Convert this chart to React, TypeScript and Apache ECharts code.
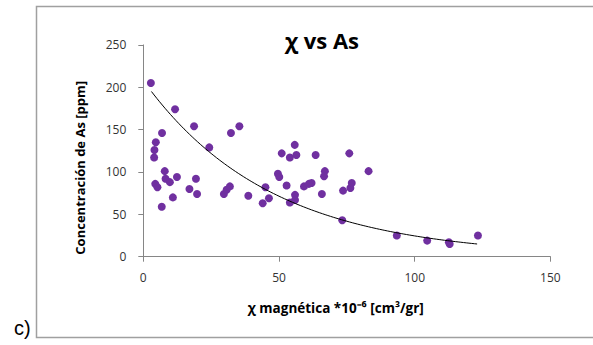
import React, { useEffect, useRef } from "react";
import * as echarts from "echarts";

// Magnetic susceptibility (x) and As concentration (y)
const CHI = [
  2.8, 4.6, 4.1, 4.0, 4.4, 5.2, 6.8, 6.9, 7.9, 8.2, 9.8, 11.7, 12.4, 10.9, 17, 18.7, 19.4, 19.8,
  24.3, 29.7, 30.7, 31.9, 32.3, 35.4, 38.7, 44, 45, 46.3, 49.6, 50.1, 51, 55.8, 54, 56.4, 63.5,
  75.9, 83, 66.9, 66.6, 52.8, 59.2, 62, 61, 55.9, 55.9, 54, 65.8, 73.6, 76.3, 76.8, 73.3, 93.4,
  104.6, 112.6, 112.9, 123.3,
];
const AS = [
  205, 135, 126, 117, 86, 82, 59, 146, 101, 92, 88, 174, 94, 70, 80, 154, 92, 74,
  129, 74, 79, 83, 146, 154, 72, 63, 82, 69, 98, 94, 122, 132, 117, 120, 120,
  122, 101, 101, 95, 84, 83, 87, 86, 73, 67, 64, 74, 78, 81, 87, 43, 25,
  19, 17, 15, 25,
];

// Exponential trendline y = A * exp(B * x)
const TREND_A = 207.9;
const TREND_B = -0.02137;
const TREND_X_START = 3;
const TREND_X_END = 123;

const X_TICKS = [0, 50, 100, 150];
const Y_TICKS = [0, 50, 100, 150, 200, 250];

const TITLE = "χ vs As";
const X_NAME = "χ magnética *10⁻⁶ [cm³/gr]";
const Y_NAME = "Concentración de As [ppm]";
const PANEL_LABEL = "c)";

export default function App() {
  const ref = useRef<HTMLDivElement>(null);
  useEffect(() => {
    if (!ref.current) return;
    const chart = echarts.init(ref.current, undefined, { renderer: "svg" });
    const points = CHI.map((x, i) => [x, AS[i]]);
    const trend: number[][] = [];
    for (let x = TREND_X_START; x <= TREND_X_END + 1e-9; x += 1) {
      trend.push([x, TREND_A * Math.exp(TREND_B * x)]);
    }
    const axisLine = { show: true, lineStyle: { color: "#868686", width: 1 } };
    const labelStyle = { fontFamily: "Open Sans", fontSize: 12, color: "#333333" };
    chart.setOption({
      animation: false,
      backgroundColor: "#ffffff",
      title: {
        text: TITLE,
        left: 317,
        top: 24,
        textAlign: "center",
        textStyle: { fontFamily: "Open Sans", fontWeight: "bold", fontSize: 22, color: "#000" },
      },
      grid: { left: 143.3, top: 44.9, right: 42.6, bottom: 88.3 },
      xAxis: {
        type: "value",
        min: X_TICKS[0],
        max: X_TICKS[X_TICKS.length - 1],
        interval: X_TICKS[1] - X_TICKS[0],
        name: X_NAME,
        nameLocation: "middle",
        nameGap: 44,
        nameTextStyle: {
          fontFamily: "Open Sans",
          fontWeight: "bold",
          fontSize: 13.5,
          color: "#000",
          padding: [0, 22, 0, 0],
        },
        axisLine,
        axisTick: { show: true, inside: false, length: 5, lineStyle: { color: "#868686" } },
        axisLabel: { ...labelStyle, margin: 15 },
        splitLine: { show: false },
      },
      yAxis: {
        type: "value",
        min: Y_TICKS[0],
        max: Y_TICKS[Y_TICKS.length - 1],
        interval: Y_TICKS[1] - Y_TICKS[0],
        name: Y_NAME,
        nameLocation: "middle",
        nameGap: 57,
        nameTextStyle: {
          fontFamily: "Open Sans",
          fontWeight: "bold",
          fontSize: 13,
          color: "#000",
          padding: [0, 34, 0, 0],
        },
        axisLine,
        axisTick: { show: true, inside: false, length: 5, lineStyle: { color: "#868686" } },
        axisLabel: { ...labelStyle, margin: 17 },
        splitLine: { show: false },
      },
      graphic: [
        {
          type: "rect",
          shape: { x: 36.5, y: 6.5, width: 600, height: 331 },
          style: { fill: "none", stroke: "#a0a0a0", lineWidth: 1.5 },
          silent: true,
        },
        {
          type: "text",
          left: 14,
          top: 318,
          style: { text: PANEL_LABEL, font: "20px 'Liberation Sans'", fill: "#000" },
        },
      ],
      series: [
        {
          type: "scatter",
          data: points,
          symbol: "circle",
          symbolSize: 8,
          itemStyle: { color: "#7030A0", opacity: 1 },
          z: 2,
        },
        {
          type: "line",
          data: trend,
          showSymbol: false,
          symbol: "none",
          lineStyle: { color: "#000", width: 1 },
          z: 3,
          silent: true,
        },
      ],
    });
    return () => chart.dispose();
  }, []);
  return (
    <div
      ref={ref}
      style={{ position: "fixed", left: 0, top: 0, width: 593, height: 345, background: "#fff" }}
    />
  );
}
